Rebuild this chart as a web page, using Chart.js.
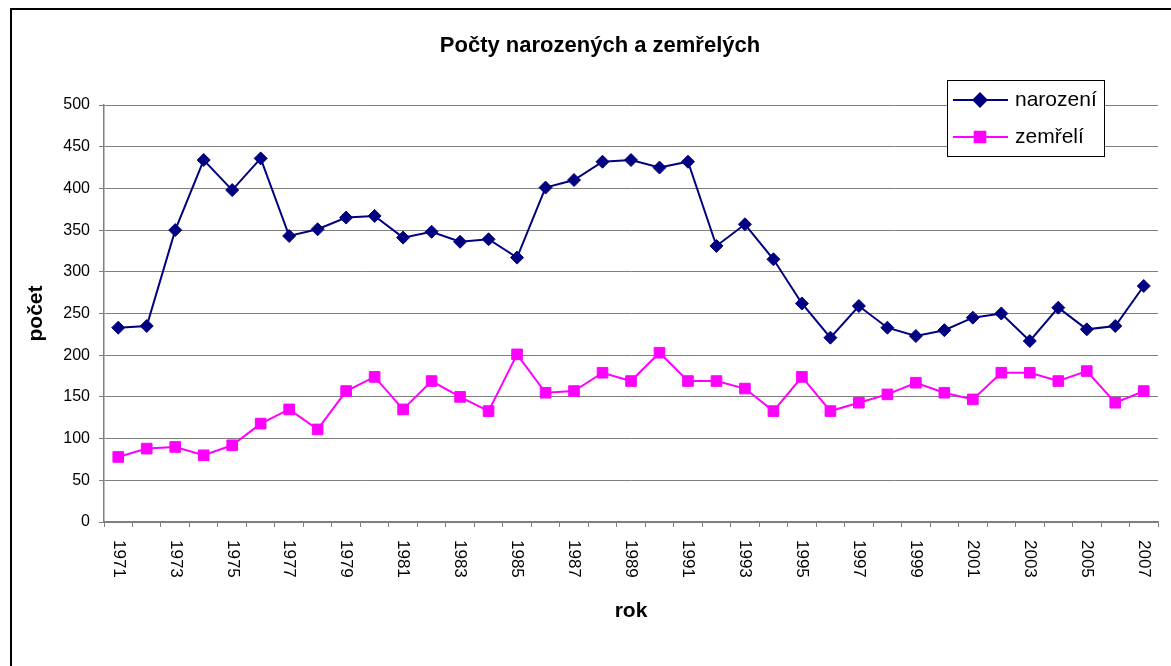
<!DOCTYPE html>
<html>
<head>
<meta charset="utf-8">
<script src="https://cdn.jsdelivr.net/npm/chart.js@4/dist/chart.umd.min.js"></script>
<style>
  html, body { margin: 0; padding: 0; background: #fff; overflow: hidden; }
  #frame { position: absolute; left: 10px; top: 8px; width: 1176px; height: 680px; border: 2px solid #000; }
</style>
</head>
<body>
<div id="frame"><canvas id="chart" width="1176" height="680"></canvas></div>
<script>
var chartTitle = 'Počty narozených a zemřelých';
var years = ['1971','1972','1973','1974','1975','1976','1977','1978','1979','1980',
  '1981','1982','1983','1984','1985','1986','1987','1988','1989','1990',
  '1991','1992','1993','1994','1995','1996','1997','1998','1999','2000',
  '2001','2002','2003','2004','2005','2006','2007'];
var narozeni = [233,235,350,434,398,436,343,351,365,367,341,348,336,339,317,401,410,432,434,425,
  432,331,357,315,262,221,259,233,223,230,245,250,217,257,231,235,283];
var zemreli = [78,88,90,80,92,118,135,111,157,174,135,169,150,133,201,155,157,179,169,203,
  169,169,160,133,174,133,143,153,167,155,147,179,179,169,181,143,157];
var yTicks = [0,50,100,150,200,250,300,350,400,450,500];

var FONT = "'Liberation Sans', Arial, sans-serif";
Chart.defaults.font.family = FONT;
Chart.defaults.color = '#000';

// title, rotated year labels and the boxed legend
var extras = {
  id: 'extras',
  afterDraw: function (chart) {
    var ctx = chart.ctx;
    var xs = chart.scales.x;
    ctx.save();
    ctx.fillStyle = '#000';
    ctx.font = 'bold 22px ' + FONT;
    ctx.textAlign = 'center';
    ctx.textBaseline = 'middle';
    ctx.fillText(chartTitle, chart.width / 2, 35.5);

    // year labels read top to bottom, every second one
    ctx.font = '17px ' + FONT;
    ctx.textAlign = 'left';
    for (var i = 0; i < years.length; i += 2) {
      ctx.save();
      ctx.translate(xs.getPixelForValue(i), xs.top + 18);
      ctx.rotate(Math.PI / 2);
      ctx.fillText(years[i], 0, 0);
      ctx.restore();
    }

    // legend
    var lx = 935, ly = 70, lw = 157, lh = 76;
    ctx.fillStyle = '#fff';
    ctx.fillRect(lx, ly, lw, lh);
    ctx.strokeStyle = '#000';
    ctx.lineWidth = 1;
    ctx.strokeRect(lx + 0.5, ly + 0.5, lw, lh);
    ctx.font = '21px ' + FONT;
    chart.data.datasets.forEach(function (ds, k) {
      var y = ly + 20 + k * 37;
      ctx.strokeStyle = ds.borderColor;
      ctx.lineWidth = ds.borderWidth;
      ctx.beginPath();
      ctx.moveTo(lx + 6, y);
      ctx.lineTo(lx + 61, y);
      ctx.stroke();
      ctx.fillStyle = ds.pointBackgroundColor;
      Chart.helpers.drawPoint(ctx, { pointStyle: ds.pointStyle, radius: ds.pointRadius, borderWidth: 1 }, lx + 33, y);
      ctx.fillStyle = '#000';
      ctx.textBaseline = 'middle';
      ctx.fillText(ds.label, lx + 68, y);
    });
    ctx.restore();
  }
};

var ctx = document.getElementById('chart').getContext('2d');
var chart = new Chart(ctx, {
  type: 'line',
  data: {
    labels: years,
    datasets: [{
      label: 'narození',
      data: narozeni,
      borderColor: '#000080',
      backgroundColor: '#000080',
      pointBackgroundColor: '#000080',
      pointBorderColor: '#000080',
      borderWidth: 2,
      pointStyle: 'rectRot',
      pointRadius: 6.5,
      pointBorderWidth: 1,
      tension: 0
    }, {
      label: 'zemřelí',
      data: zemreli,
      borderColor: '#ff00ff',
      backgroundColor: '#ff00ff',
      pointBackgroundColor: '#ff00ff',
      pointBorderColor: '#ff00ff',
      borderWidth: 2,
      pointStyle: 'rect',
      pointRadius: 7.5,
      pointBorderWidth: 1,
      tension: 0
    }]
  },
  options: {
    responsive: false,
    animation: false,
    layout: { padding: { top: 95, right: 30, left: 0, bottom: 0 } },
    plugins: {
      legend: { display: false },
      title: { display: false },
      tooltip: { enabled: false }
    },
    scales: {
      x: {
        type: 'category',
        offset: true,
        grid: { offset: true, drawOnChartArea: false, drawTicks: true, tickLength: 5, color: '#7f7f7f' },
        border: { color: '#7f7f7f', width: 1.5 },
        ticks: { display: false },
        title: { display: true, text: 'rok', font: { size: 21, weight: 'bold' }, padding: { top: 0, bottom: 66 } },
        afterFit: function (scale) { scale.height = 168; }
      },
      y: {
        min: 0,
        max: 500,
        afterBuildTicks: function (scale) {
          scale.ticks = yTicks.map(function (v) { return { value: v }; });
        },
        grid: { color: '#7f7f7f', tickLength: 5 },
        border: { color: '#7f7f7f', width: 1.5 },
        ticks: { font: { size: 16 }, padding: 9 },
        title: { display: true, text: 'počet', font: { size: 21, weight: 'bold' }, padding: { top: 12, bottom: 0 } },
        afterFit: function (scale) { scale.width = 92; }
      }
    }
  },
  plugins: [extras]
});
</script>
</body>
</html>
